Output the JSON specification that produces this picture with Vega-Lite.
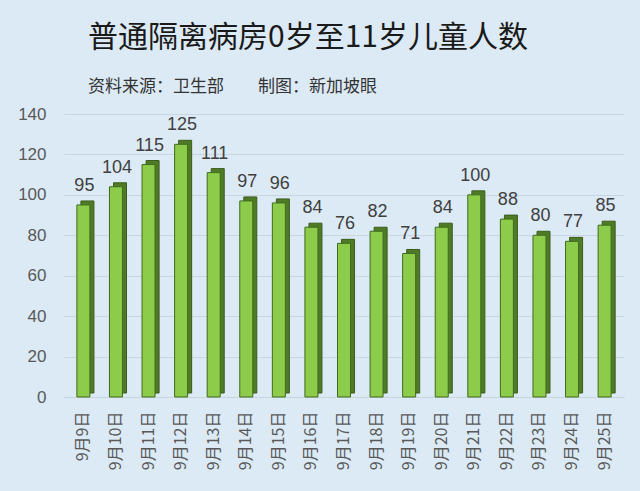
{
  "$schema": "https://vega.github.io/schema/vega-lite/v6.json",
  "width": 560,
  "height": 283,
  "autosize": {"type": "none"},
  "padding": {"left": 64, "top": 114, "right": 16, "bottom": 94},
  "background": "#DCEAF5",
  "title": {
    "text": "普通隔离病房0岁至11岁儿童人数",
    "subtitle": "资料来源：卫生部　　制图：新加坡眼",
    "anchor": "start",
    "frame": "group",
    "dx": 24,
    "offset": 10,
    "font": "Noto Sans CJK SC",
    "fontSize": 30,
    "fontWeight": "normal",
    "color": "#1a1a1a",
    "subtitleFont": "Noto Sans CJK SC",
    "subtitleFontSize": 17,
    "subtitleColor": "#333333",
    "subtitlePadding": 26
  },
  "data": {
    "values": [
      {"date": "9月9日", "n": 95},
      {"date": "9月10日", "n": 104},
      {"date": "9月11日", "n": 115},
      {"date": "9月12日", "n": 125},
      {"date": "9月13日", "n": 111},
      {"date": "9月14日", "n": 97},
      {"date": "9月15日", "n": 96},
      {"date": "9月16日", "n": 84},
      {"date": "9月17日", "n": 76},
      {"date": "9月18日", "n": 82},
      {"date": "9月19日", "n": 71},
      {"date": "9月20日", "n": 84},
      {"date": "9月21日", "n": 100},
      {"date": "9月22日", "n": 88},
      {"date": "9月23日", "n": 80},
      {"date": "9月24日", "n": 77},
      {"date": "9月25日", "n": 85}
    ]
  },
  "encoding": {
    "x": {
      "field": "date",
      "type": "ordinal",
      "sort": null,
      "scale": {"paddingInner": 0.45, "paddingOuter": 0.32},
      "axis": {
        "title": null,
        "labelAngle": -90,
        "labelFont": "Noto Sans CJK SC",
        "labelFontSize": 16,
        "labelColor": "#595959",
        "labelPadding": 14,
        "ticks": false,
        "domain": true,
        "domainColor": "#C8D4DE"
      }
    },
    "y": {
      "field": "n",
      "type": "quantitative",
      "scale": {"domain": [0, 140]},
      "axis": {
        "title": null,
        "values": [0, 20, 40, 60, 80, 100, 120, 140],
        "labelFont": "Liberation Sans",
        "labelFontSize": 17,
        "labelColor": "#595959",
        "labelPadding": 18,
        "ticks": false,
        "domain": false,
        "grid": true,
        "gridColor": "#C9D6E1",
        "gridWidth": 1
      }
    }
  },
  "layer": [
    {
      "mark": {"type": "bar", "width": 13, "color": "#4F7B26", "stroke": "#3A5C1B", "strokeWidth": 1},
      "encoding": {"xOffset": {"value": 13}, "yOffset": {"value": -4}}
    },
    {
      "mark": {"type": "bar", "width": 13, "color": "#8DCB4B", "stroke": "#3F6B1E", "strokeWidth": 1}
    },
    {
      "mark": {"type": "text", "dy": -19, "dx": 1, "fontSize": 18, "color": "#404040", "font": "Liberation Sans"},
      "encoding": {"text": {"field": "n", "type": "quantitative"}}
    }
  ],
  "config": {"view": {"stroke": null}}
}
